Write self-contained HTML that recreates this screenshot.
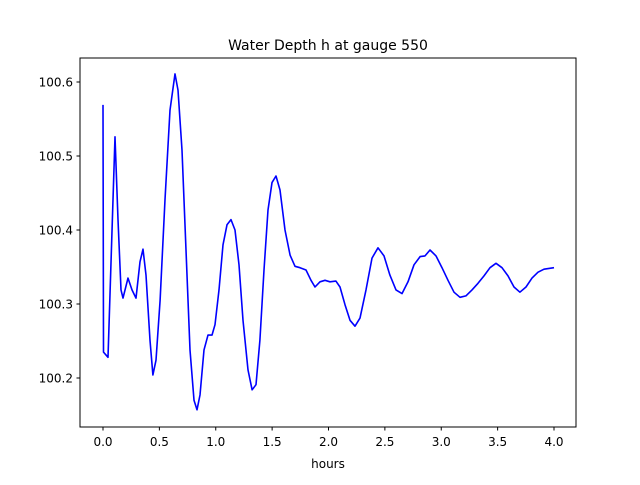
<!DOCTYPE html>
<html><head><meta charset="utf-8"><style>
body{margin:0;background:#fff;}
svg text{font-family:"DejaVu Sans","Liberation Sans",sans-serif;fill:#000;}
</style></head><body>
<svg width="640" height="480" id="chart">
<rect width="640" height="480" fill="#fff"/>
<text x="328" y="50" font-size="14" text-anchor="middle">Water Depth h at gauge 550</text>
<text x="328" y="468" font-size="12" text-anchor="middle">hours</text>
<g id="ticks"></g>
<polyline id="series" fill="none" stroke="#0000ff" stroke-width="1.6" stroke-linejoin="round"/>
<rect x="80" y="58" width="496" height="369" fill="none" stroke="#000" stroke-width="1"/>
</svg>
<script>
const hours=[0,0.004,0.044,0.106,0.133,0.160,0.177,0.222,0.257,0.293,0.328,0.355,0.381,0.417,0.443,0.470,0.506,0.550,0.594,0.639,0.665,0.701,0.736,0.772,0.807,0.834,0.860,0.896,0.931,0.967,0.993,1.029,1.064,1.100,1.135,1.171,1.206,1.242,1.286,1.322,1.357,1.392,1.428,1.463,1.499,1.534,1.570,1.614,1.659,1.703,1.747,1.800,1.845,1.880,1.925,1.969,2.013,2.066,2.102,2.146,2.191,2.235,2.279,2.333,2.386,2.439,2.492,2.545,2.599,2.652,2.705,2.758,2.812,2.856,2.900,2.953,3.007,3.060,3.113,3.166,3.219,3.273,3.326,3.379,3.432,3.486,3.539,3.592,3.645,3.698,3.752,3.805,3.858,3.911,4.000];
const depth=[100.569,100.235,100.228,100.526,100.414,100.319,100.308,100.335,100.319,100.308,100.357,100.374,100.339,100.251,100.204,100.224,100.305,100.441,100.562,100.611,100.589,100.508,100.373,100.238,100.170,100.157,100.177,100.238,100.258,100.258,100.272,100.319,100.380,100.407,100.414,100.400,100.353,100.278,100.211,100.184,100.191,100.251,100.346,100.427,100.464,100.473,100.454,100.400,100.366,100.351,100.349,100.346,100.332,100.323,100.330,100.332,100.330,100.331,100.323,100.299,100.278,100.270,100.281,100.319,100.362,100.376,100.365,100.339,100.319,100.314,100.330,100.353,100.364,100.365,100.373,100.365,100.349,100.332,100.316,100.309,100.311,100.319,100.328,100.338,100.349,100.355,100.349,100.338,100.323,100.316,100.323,100.335,100.343,100.347,100.349];
const xTicks=[0,0.5,1,1.5,2,2.5,3,3.5,4];
const xTickLabels=["0.0","0.5","1.0","1.5","2.0","2.5","3.0","3.5","4.0"];
const yTicks=[100.2,100.3,100.4,100.5,100.6];
const yTickLabels=["100.2","100.3","100.4","100.5","100.6"];
const X=h=>103+h*112.75;
const Y=v=>82+(100.6-v)*740;
const NS="http://www.w3.org/2000/svg";
const g=document.getElementById('ticks');
xTicks.forEach((t,i)=>{
 const l=document.createElementNS(NS,'line');
 
 
 l.setAttribute('x1',X(t));l.setAttribute('x2',X(t));l.setAttribute('y1',427);l.setAttribute('y2',430.5);l.setAttribute('stroke','#000');
 g.appendChild(l);
 const tx=document.createElementNS(NS,'text');
 
 
 tx.setAttribute('x',X(t));tx.setAttribute('y',446);tx.setAttribute('font-size','12');tx.setAttribute('text-anchor','middle');
 tx.textContent=xTickLabels[i];g.appendChild(tx);
});
yTicks.forEach((t,i)=>{
 const l=document.createElementNS(NS,'line');
 
 
 l.setAttribute('x1',76.5);l.setAttribute('x2',80);l.setAttribute('y1',Y(t));l.setAttribute('y2',Y(t));l.setAttribute('stroke','#000');
 g.appendChild(l);
 const tx=document.createElementNS(NS,'text');
 
 
 tx.setAttribute('x',73);tx.setAttribute('y',Y(t)+4.5);tx.setAttribute('font-size','12');tx.setAttribute('text-anchor','end');
 tx.textContent=yTickLabels[i];g.appendChild(tx);
});
document.getElementById('series').setAttribute('points',hours.map((h,i)=>X(h).toFixed(1)+','+Y(depth[i]).toFixed(1)).join(' '));
</script>
</body></html>
